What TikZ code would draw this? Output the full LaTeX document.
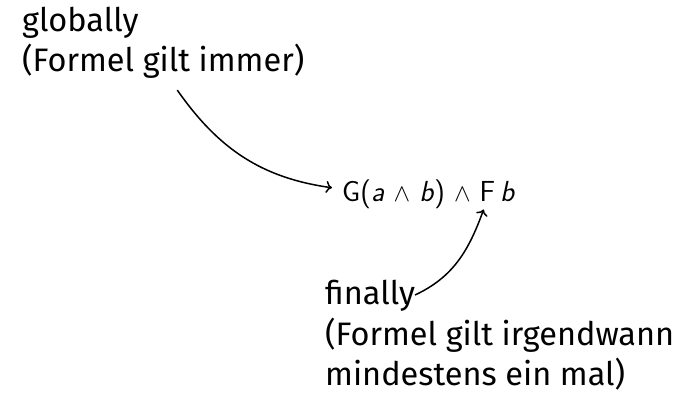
\documentclass[tikz,border=0pt]{standalone}
\usepackage{fontspec}
\setmainfont{Fira Sans}
\usetikzlibrary{arrows.meta, positioning, calc}

\begin{document}
\begin{tikzpicture}[x=1pt, y=1pt,
    notetext/.style={font=\fontsize{32.5}{40}\selectfont, align=left, inner sep=0pt},
    notearrow/.style={-{To[length=6pt, width=12pt]}, line width=1.5pt, black}]
  \useasboundingbox (0,0) rectangle (679,396);
  % Formula
  \node[inner sep=0pt, anchor=base west, font=\fontsize{29}{34}\selectfont\sffamily] (formula) at (342,194)
    {G(\textit{a} $\wedge$ \textit{b}) $\wedge$ F\,\textit{b}};
  % Notes (base anchor sits on the last line)
  \node[notetext, anchor=base west] (glob) at (22,324) {globally\\(Formel gilt immer)};
  \node[notetext, anchor=base west] (final) at (325,11) {finally\\(Formel gilt irgendwann\\mindestens ein mal)};
  \coordinate (finstart) at (415,101);
  \coordinate (ftarget) at ($(formula.south west)!0.817!(formula.south east)$);
  % Arrows
  \draw[notearrow] ([xshift=14pt, yshift=-11pt]glob.south) to[out=-55, in=172] ([xshift=-10pt, yshift=7pt]formula.west);
  \draw[notearrow] (finstart) to[out=25, in=-110] (ftarget);
\end{tikzpicture}
\end{document}
